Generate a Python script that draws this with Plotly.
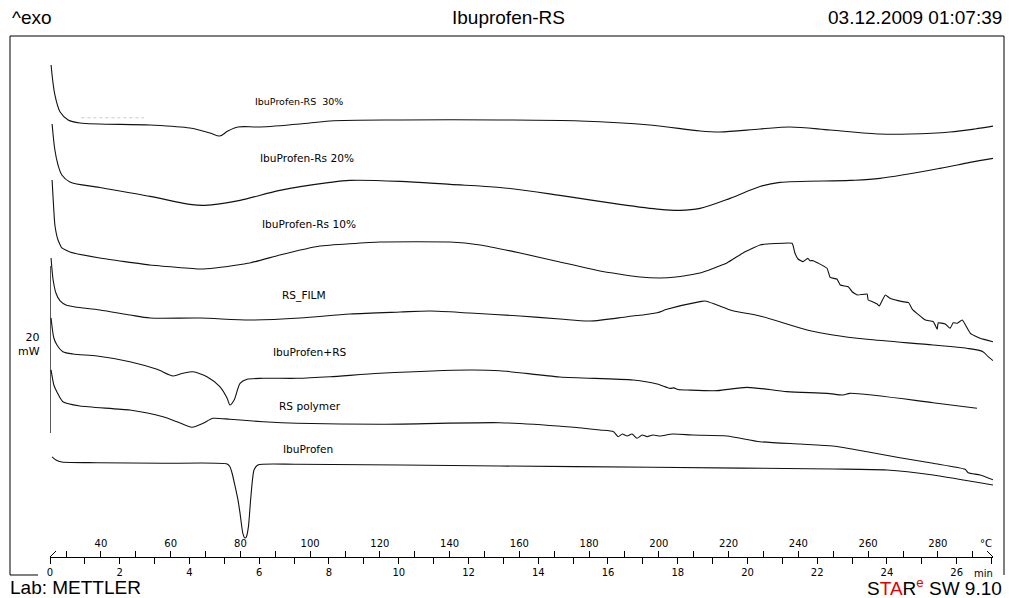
import plotly.graph_objects as go

# ---------------- data ----------------
# x: temperature in degC, y: heat flow in mW (curves stacked with offsets)
T_30 = [25.7, 26.8, 28.3, 30.6, 34.0, 54.1, 65.5, 71.3, 74.1, 76.4, 79.3, 85.6, 97.1, 105.7,
        125.8, 154.4, 177.4, 197.4, 211.8, 217.5, 229.0, 237.6, 249.1, 263.4, 272.0, 283.5,
        290.6, 295.8]
HF_30 = [58.92, 55.33, 53.29, 52.34, 51.98, 51.74, 51.38, 50.78, 50.42, 51.02, 51.50, 51.50,
         51.86, 52.22, 52.34, 52.34, 52.22, 51.74, 51.02, 50.90, 51.26, 51.50, 51.14, 50.66,
         50.66, 50.90, 51.26, 51.60]
# faint grey trace fragment above the 30 % curve
T_FAINT = [34.4, 52.4]
HF_FAINT = [52.6, 52.6]

T_20 = [26.0, 26.8, 27.7, 28.8, 31.1, 39.7, 54.1, 65.5, 69.8, 79.9, 91.3, 105.7, 111.4, 125.8,
        140.1, 154.4, 171.6, 188.8, 200.3, 206.0, 211.8, 220.4, 229.0, 234.7, 254.8, 263.4,
        280.6, 289.2, 295.8]
HF_20 = [51.86, 48.74, 46.95, 45.75, 44.91, 44.26, 43.19, 42.23, 42.11, 42.71, 43.91, 44.86,
         45.10, 44.98, 44.62, 44.26, 43.31, 42.23, 41.63, 41.51, 41.75, 42.95, 44.38, 44.86,
         45.10, 45.34, 46.54, 47.26, 47.74]

T_10 = [26.0, 26.8, 27.7, 28.8, 31.1, 39.7, 54.1, 68.4, 72.7, 82.7, 91.3, 102.8, 120.0, 140.1,
        148.7, 160.2, 171.6, 183.1, 194.6, 200.3, 204.9, 211.8, 219.5, 224.1, 229.0, 233.3,
        238.2, 239.0, 239.9, 241.3, 242.7, 243.3, 244.2, 248.2, 249.1, 251.1, 252.0, 254.3,
        255.4, 256.9, 259.7, 260.0, 261.2, 262.6, 263.2, 264.9, 266.3, 269.8, 271.6, 272.7,
        276.4, 278.7, 279.8, 280.1, 282.1, 283.5, 284.4, 285.5, 287.0, 289.3, 292.1, 295.8]
HF_10 = [45.15, 39.76, 37.96, 37.01, 36.53, 35.81, 34.97, 34.49, 34.61, 35.21, 36.17, 37.25,
         37.73, 37.73, 37.37, 36.41, 35.33, 34.25, 33.53, 33.41, 33.53, 34.01, 35.21, 36.41,
         37.37, 37.54, 37.57, 36.41, 35.69, 35.37, 35.77, 35.49, 35.49, 34.58, 33.50, 33.26,
         32.57, 32.37, 31.77, 31.38, 31.50, 30.78, 30.58, 30.30, 30.06, 31.38, 30.98, 30.58,
         30.46, 29.66, 28.38, 28.18, 27.27, 28.06, 27.90, 27.39, 28.06, 27.99, 28.38, 26.79,
         26.19, 25.78]

T_FILM = [25.7, 26.3, 27.1, 28.3, 30.0, 32.6, 39.7, 48.3, 54.1, 68.4, 82.7, 97.1, 111.4, 125.8,
          134.4, 145.8, 160.2, 171.6, 180.2, 190.9, 199.5, 202.3, 211.8, 213.2, 216.7, 221.2,
          229.0, 242.5, 249.9, 259.7, 278.6, 288.3, 292.9, 294.4, 295.8]
HF_FILM = [35.81, 33.17, 31.62, 30.66, 30.18, 29.94, 29.58, 28.98, 28.62, 28.62, 28.38, 28.62,
           29.10, 29.34, 29.46, 29.22, 28.86, 28.50, 28.26, 28.78, 29.26, 29.66, 30.58, 30.66,
           30.18, 29.50, 28.86, 27.19, 26.59, 26.07, 25.39, 24.99, 24.59, 23.99, 23.51]

T_MIX = [25.7, 26.5, 27.4, 29.1, 32.0, 38.9, 48.3, 56.1, 60.7, 63.5, 66.4, 70.4, 74.1, 76.2,
         77.0, 78.2, 79.9, 81.9, 86.5, 96.2, 105.7, 120.0, 145.8, 154.4, 171.6, 192.6, 199.5,
         203.2, 204.3, 205.5, 208.1, 216.7, 225.3, 236.7, 248.2, 252.8, 254.8, 278.6, 291.2]
HF_MIX = [28.62, 26.23, 25.39, 24.59, 24.31, 24.07, 23.39, 22.48, 21.68, 22.00, 22.19, 21.59,
          20.40, 19.01, 18.20, 18.80, 20.80, 21.28, 21.40, 21.40, 21.59, 22.00, 22.40, 22.31,
          21.56, 21.20, 20.72, 20.20, 20.25, 20.05, 20.00, 19.92, 20.32, 19.80, 19.60, 19.40,
          19.60, 18.48, 17.81]

T_POLY = [25.7, 26.5, 27.4, 29.1, 34.0, 48.3, 57.8, 61.8, 66.1, 69.3, 72.1, 77.0, 86.5, 96.2,
          120.0, 154.4, 173.6, 183.1, 187.0, 188.3, 189.5, 190.9, 192.3, 193.7, 195.2, 196.6,
          198.3, 200.3, 204.0, 209.8, 219.5, 229.0, 240.5, 249.9, 259.7, 269.1, 278.6, 287.8,
          288.7, 292.1, 295.8]
HF_POLY = [22.40, 20.60, 19.76, 18.60, 18.08, 17.60, 16.80, 16.20, 15.53, 16.01, 16.61, 16.49,
           16.20, 16.01, 15.89, 16.08, 15.60, 15.21, 15.01, 14.41, 14.73, 14.49, 14.73, 14.22,
           14.61, 14.41, 14.61, 14.49, 14.73, 14.61, 14.49, 13.81, 13.53, 13.29, 12.61, 11.89,
           11.22, 10.50, 10.10, 9.82, 9.25]

T_IBU = [26.0, 27.1, 28.8, 38.9, 57.8, 76.2, 77.0, 77.6, 78.5, 79.3, 79.9, 80.7, 81.3, 81.7,
         82.3, 83.0, 83.9, 85.0, 96.2, 154.4, 198.3, 249.9, 265.4, 278.6, 295.8]
HF_IBU = [12.00, 11.62, 11.38, 11.29, 11.22, 11.14, 10.81, 10.06, 8.42, 6.83, 5.23, 2.84, 2.28,
          2.40, 3.63, 7.22, 10.42, 11.02, 11.10, 10.90, 10.74, 10.54, 10.42, 9.82, 8.62]

CURVE_NAMES = ["IbuProfen-RS\u00a0\u00a030%", "IbuProfen-Rs 20%", "IbuProfen-Rs 10%",
               "RS_FILM", "IbuProfen+RS", "RS polymer", "IbuProfen"]

TEMP_START, TEMP_END = 25.4, 295.8      # degC at the axis ends
RATE = 10.0                              # K/min
SCALE_MW = 20                            # scale bar

# ---------------- figure ----------------
W, H = 1009, 598
ML, MR, MT, MB = 50, 16, 36, 41
PW, PH = W - ML - MR, H - MT - MB


def px(x):
    return (x - ML) / PW


def py(y):
    return (H - MB - y) / PH


fig = go.Figure()
fig.add_trace(go.Scatter(x=T_FAINT, y=HF_FAINT, mode="lines",
                         line=dict(color="#c8c8c8", width=1, dash="dot"),
                         hoverinfo="skip", showlegend=False))
series = [(T_30, HF_30), (T_20, HF_20), (T_10, HF_10), (T_FILM, HF_FILM),
          (T_MIX, HF_MIX), (T_POLY, HF_POLY), (T_IBU, HF_IBU)]
smooth = [0.9, 0.9, 0.35, 0.8, 0.7, 0.6, 0.6]
for (tx, hy), name, sm in zip(series, CURVE_NAMES, smooth):
    fig.add_trace(go.Scatter(x=tx, y=hy, mode="lines", name=name,
                             line=dict(color="#111111", width=1.1, shape="spline", smoothing=sm),
                             hoverinfo="skip", showlegend=False,
                             xaxis="x", yaxis="y"))

tick_font = dict(family="DejaVu Sans", size=10, color="#000000")
t_end = (TEMP_END - TEMP_START) / RATE

fig.update_layout(
    width=W, height=H, autosize=False,
    margin=dict(l=ML, r=MR, t=MT, b=MB, pad=0),
    paper_bgcolor="white", plot_bgcolor="white",
    showlegend=False,
    xaxis=dict(range=[TEMP_START, TEMP_END], domain=[0, 1], side="top",
               anchor="free", position=0,
               showgrid=False, zeroline=False, showline=False,
               ticks="outside", ticklen=6, tickwidth=1, tickcolor="#000",
               tick0=0, dtick=20, tickfont=tick_font,
               minor=dict(dtick=10, ticks="outside", ticklen=6, tickcolor="#000", showgrid=False)),
    xaxis2=dict(range=[0, t_end], domain=[0, 1], overlaying="x", side="bottom",
                anchor="y", showgrid=False, zeroline=False,
                showline=True, linecolor="#000", linewidth=1,
                ticks="outside", ticklen=6, tickwidth=1, tickcolor="#000",
                tick0=0, dtick=2, tickfont=tick_font,
                minor=dict(dtick=1, ticks="outside", ticklen=6, tickcolor="#000", showgrid=False)),
    yaxis=dict(range=[0, PH / 8.35], domain=[0, 1], visible=False, fixedrange=True),
)

# empty trace so that the time axis is laid out
fig.add_trace(go.Scatter(x=[None], y=[None], xaxis="x2", yaxis="y", showlegend=False,
                         hoverinfo="skip"))

shapes = []
line_k = dict(color="#000", width=1)
# frame
shapes.append(dict(type="line", xref="paper", yref="paper", x0=px(10), x1=px(1004),
                   y0=py(36), y1=py(36), line=line_k))
shapes.append(dict(type="line", xref="paper", yref="paper", x0=px(10), x1=px(10),
                   y0=py(36), y1=py(575), line=line_k))
shapes.append(dict(type="line", xref="paper", yref="paper", x0=px(10), x1=px(38),
                   y0=py(575), y1=py(575), line=line_k))
shapes.append(dict(type="line", xref="paper", yref="paper", x0=px(1004), x1=px(1004),
                   y0=py(36), y1=py(575), line=line_k))
# axis end marks
shapes.append(dict(type="line", xref="x2", yref="paper", xsizemode="pixel", xanchor=0,
                   x0=0, x1=6, ysizemode="pixel", yanchor=0, y0=0, y1=6, line=line_k))
shapes.append(dict(type="line", xref="x2", yref="paper", xsizemode="pixel", xanchor=t_end,
                   x0=-6, x1=0, ysizemode="pixel", yanchor=0, y0=6, y1=0, line=line_k))
# 20 mW scale bar
sb_lo = 14.85
sb_hi = sb_lo + SCALE_MW
shapes.append(dict(type="line", xref="x", yref="y", x0=TEMP_START, x1=TEMP_START,
                   y0=sb_lo, y1=sb_hi, line=dict(color="#000", width=1.3)))
for yv in (sb_lo, sb_hi):
    shapes.append(dict(type="line", xref="x", yref="y", xsizemode="pixel", xanchor=TEMP_START,
                       x0=-7, x1=0, y0=yv, y1=yv, line=line_k))
fig.update_layout(shapes=shapes)

ann = []
# curve label positions (degC, mW) and font sizes
label_pos = [(96.7, 54.5), (99.0, 47.8), (99.6, 39.9), (98.2, 31.3), (99.9, 24.5),
             (99.9, 18.1), (99.3, 12.9)]
label_size = [9.5, 10.6, 10.6, 10.6, 10.6, 10.6, 10.6]
for name, (lx, ly), fs in zip(CURVE_NAMES, label_pos, label_size):
    ann.append(dict(x=lx, y=ly, xref="x", yref="y", text=name, showarrow=False,
                    font=dict(family="DejaVu Sans", size=fs, color="#000"),
                    xanchor="center", yanchor="middle"))
ann.append(dict(x=px(42), y=py(344), xref="paper", yref="paper", text="20<br>mW",
                showarrow=False, font=dict(family="DejaVu Sans", size=11, color="#000"),
                xanchor="right", yanchor="middle", align="right"))
ann.append(dict(x=px(994), y=py(543), xref="paper", yref="paper", text="°C",
                showarrow=False, font=tick_font, xanchor="right", yanchor="middle"))
ann.append(dict(x=px(995), y=py(573), xref="paper", yref="paper", text="min",
                showarrow=False, font=tick_font, xanchor="right", yanchor="middle"))
hdr_font = dict(family="Liberation Sans, Arial, sans-serif", size=19, color="#000")
ann.append(dict(x=px(10), y=py(18), xref="paper", yref="paper", text="^exo",
                showarrow=False, font=hdr_font, xanchor="left", yanchor="middle"))
ann.append(dict(x=px(508), y=py(18), xref="paper", yref="paper", text="Ibuprofen-RS",
                showarrow=False, font=hdr_font, xanchor="center", yanchor="middle"))
ann.append(dict(x=px(1004), y=py(18), xref="paper", yref="paper", text="03.12.2009 01:07:39",
                showarrow=False, font=hdr_font, xanchor="right", yanchor="middle"))
ann.append(dict(x=px(8), y=py(587), xref="paper", yref="paper", text="Lab: METTLER",
                showarrow=False, font=hdr_font, xanchor="left", yanchor="middle"))
ann.append(dict(x=px(1004), y=py(587), xref="paper", yref="paper",
                text='S<span style="color:#e00000">TA</span>R<sup><span style="color:#e00000">e</span></sup> SW 9.10',
                showarrow=False, font=hdr_font, xanchor="right", yanchor="middle"))
fig.update_layout(annotations=ann)

fig.write_html("out.html", config={"displayModeBar": False},
               post_script="document.body.style.margin='0';")
